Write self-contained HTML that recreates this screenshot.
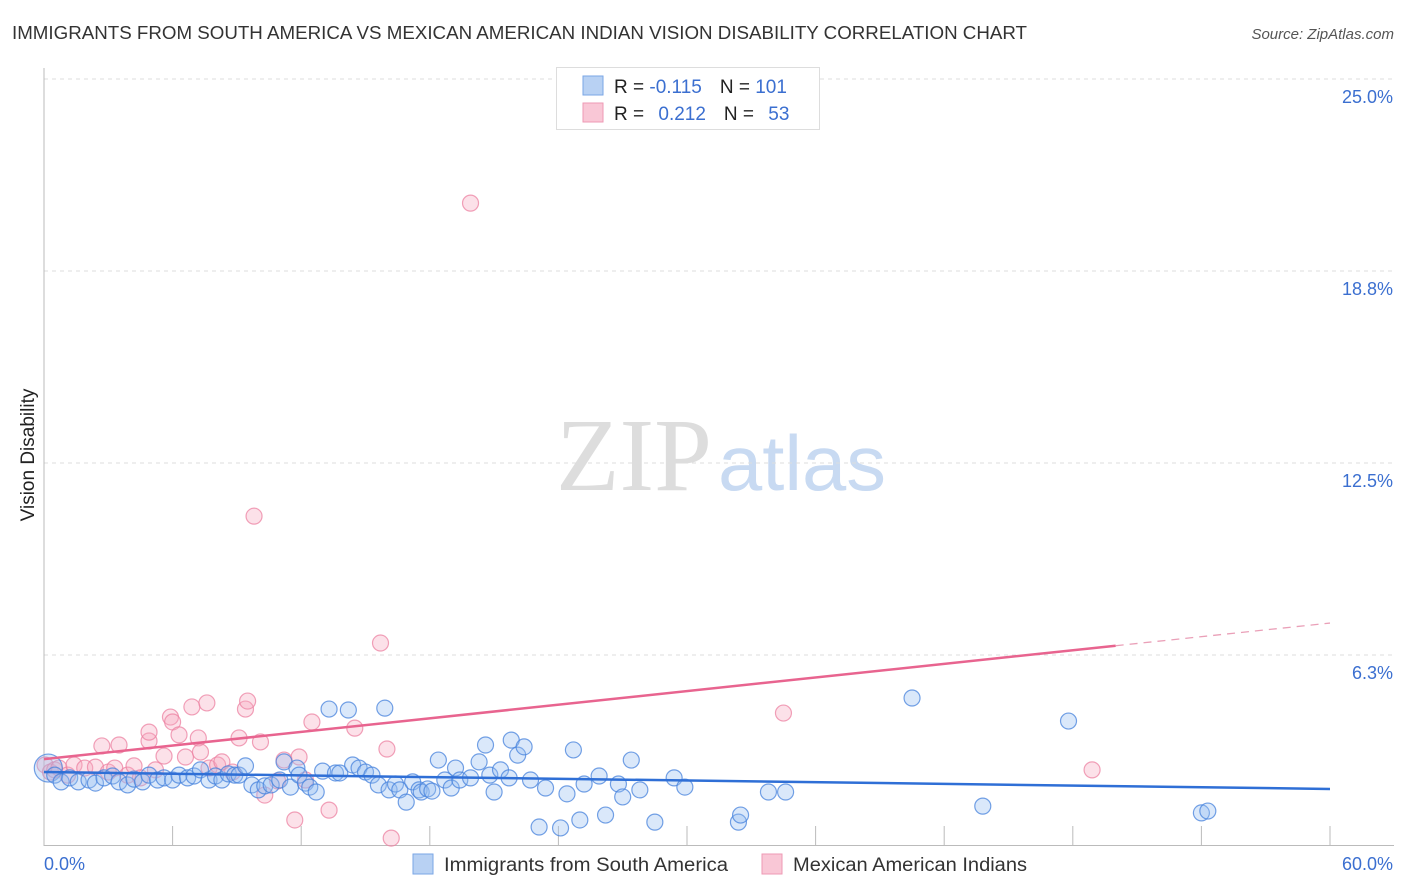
<!DOCTYPE html>
<html><head><meta charset="utf-8">
<style>
body{margin:0;background:#fff;font-family:"Liberation Sans",sans-serif;}
#wrap{position:relative;width:1406px;height:892px;overflow:hidden;}
</style></head>
<body>
<div id="wrap">
<svg id="svg" width="1406" height="892" xmlns="http://www.w3.org/2000/svg">
<text x="12" y="39" font-size="18" fill="#333" textLength="1015" lengthAdjust="spacingAndGlyphs">IMMIGRANTS FROM SOUTH AMERICA VS MEXICAN AMERICAN INDIAN VISION DISABILITY CORRELATION CHART</text>
<text x="1394" y="39" font-size="15" fill="#555" font-style="italic" text-anchor="end">Source: ZipAtlas.com</text>
<text x="34" y="455" font-size="19" fill="#222" text-anchor="middle" transform="rotate(-90 34 455)">Vision Disability</text>
<g>
<text x="556" y="490" font-size="104" font-family="Liberation Serif,serif" fill="#ddd" textLength="156" lengthAdjust="spacingAndGlyphs">ZIP</text>
<text x="718" y="490" font-size="78" fill="#c8daf2" textLength="168" lengthAdjust="spacingAndGlyphs">atlas</text>
</g>
<g id="grid"></g><g id="axes"></g><g id="pts"></g><g id="trend"></g>
<g>
<rect x="556.5" y="67.5" width="263" height="62" fill="#fff" stroke="#ddd"/>
<rect x="583" y="76" width="20" height="19" fill="#b8d1f3" stroke="#7aa6e6"/>
<rect x="583" y="103" width="20" height="19" fill="#f9c7d6" stroke="#ee9ab4"/>
<text x="614" y="93" font-size="19" fill="#222">R = <tspan fill="#3b6fd0">-0.115</tspan><tspan dx="18">N = </tspan><tspan fill="#3b6fd0">101</tspan></text>
<text x="614" y="120" font-size="19" fill="#222">R = <tspan dx="9" fill="#3b6fd0">0.212</tspan><tspan dx="18">N = </tspan><tspan dx="9" fill="#3b6fd0">53</tspan></text>
</g>
<g>
<rect x="413" y="854" width="20" height="20" fill="#b8d1f3" stroke="#7aa6e6"/>
<text x="444" y="871" font-size="19" fill="#333" textLength="284" lengthAdjust="spacingAndGlyphs">Immigrants from South America</text>
<rect x="762" y="854" width="20" height="20" fill="#f9c7d6" stroke="#ee9ab4"/>
<text x="793" y="871" font-size="19" fill="#333" textLength="234" lengthAdjust="spacingAndGlyphs">Mexican American Indians</text>
</g>
</svg>
</div>
<script>
const blueX=[0.2,0.5,0.8,1.2,1.6,2.1,2.4,2.8,3.2,3.5,3.9,4.2,4.6,4.9,5.3,5.6,6.0,6.3,6.7,7.0,7.3,7.7,8.0,8.3,8.6,8.9,9.1,9.4,9.7,10.0,10.3,10.6,11.0,11.2,11.5,11.8,11.9,12.2,12.4,12.7,13.0,13.3,13.6,13.8,14.2,14.4,14.7,15.0,15.3,15.6,15.9,16.1,16.4,16.6,16.9,17.2,17.5,17.6,17.9,18.1,18.4,18.7,19.0,19.2,19.4,19.9,20.3,20.6,20.8,21.0,21.3,21.7,21.8,22.1,22.4,22.7,23.1,23.4,24.1,24.4,24.7,25.0,25.2,25.9,26.2,26.8,27.0,27.4,27.8,28.5,29.4,29.9,32.4,32.5,33.8,34.6,40.5,43.8,47.8,54.0,54.3];
const blueY=[2.57,2.34,2.12,2.25,2.12,2.18,2.08,2.25,2.31,2.12,2.02,2.21,2.12,2.34,2.18,2.25,2.18,2.34,2.25,2.31,2.51,2.18,2.31,2.18,2.38,2.34,2.34,2.64,2.02,1.86,1.99,2.02,2.18,2.77,1.95,2.57,2.34,2.08,1.95,1.79,2.47,4.49,2.41,2.41,4.46,2.67,2.57,2.44,2.34,2.02,4.52,1.86,2.05,1.86,1.46,2.12,1.86,1.79,1.89,1.82,2.83,2.18,1.92,2.57,2.18,2.25,2.77,3.32,2.34,1.79,2.51,2.25,3.48,2.99,3.26,2.18,0.65,1.92,0.62,1.73,3.16,0.88,2.05,2.31,1.04,2.05,1.63,2.83,1.86,0.81,2.25,1.95,0.81,1.04,1.79,1.79,4.85,1.33,4.10,1.11,1.17];
const pinkX=[0.05,0.3,0.5,0.7,1.1,1.4,1.9,2.4,2.7,3.0,3.3,3.5,3.9,4.2,4.5,4.9,4.9,5.2,5.6,5.9,6.0,6.3,6.6,6.9,7.2,7.3,7.6,7.7,8.1,8.3,8.8,9.1,9.4,9.5,9.8,10.1,10.3,10.9,11.2,11.7,11.9,12.2,12.5,13.3,14.5,15.7,16.0,16.2,19.9,34.5,48.9];
const pinkY=[2.67,2.44,2.51,2.57,2.34,2.67,2.57,2.60,3.29,2.44,2.57,3.32,2.34,2.64,2.25,3.45,3.74,2.51,2.96,4.23,4.07,3.65,2.93,4.56,3.55,3.09,4.69,2.57,2.67,2.77,2.44,3.55,4.49,4.75,10.77,3.42,1.69,2.15,2.83,0.88,2.93,2.18,4.07,1.20,3.87,6.64,3.19,0.29,20.96,4.36,2.51];
const blueTrend=[2.44,1.89];
const pinkTrend=[2.86,7.29];
const pinkSolidEnd=50;
const yTicks=[6.25,12.5,18.75,25];
const yTickLabels=["6.3%","12.5%","18.8%","25.0%"];
const xTicks=[0,6,12,18,24,30,36,42,48,54,60];

const NS="http://www.w3.org/2000/svg";
const X=v=>44+v/60*1286;
const Y=v=>847-v/6.25*192;
function mk(tag,attrs,parent){const e=document.createElementNS(NS,tag);for(const k in attrs)e.setAttribute(k,attrs[k]);parent.appendChild(e);return e;}
const grid=document.getElementById('grid'),axes=document.getElementById('axes'),pts=document.getElementById('pts'),trend=document.getElementById('trend');
yTicks.forEach((t,i)=>{
 const l=mk('line',{x1:44,x2:1394,y1:Y(t),y2:Y(t),stroke:'#ddd','stroke-dasharray':'4,4'},grid);
 
 
 const tx=mk('text',{x:1393,y:Y(t)+24,'font-size':18,fill:'#3b6fd0','text-anchor':'end'},grid);
 tx.textContent=yTickLabels[i];
 
 
});
const ya=mk('line',{x1:44,x2:44,y1:68,y2:846,stroke:'#bbb'},axes);


const xa=mk('line',{x1:44,x2:1394,y1:845.5,y2:845.5,stroke:'#bbb'},axes);


xTicks.forEach(t=>{if(t===0)return;
 const l=mk('line',{x1:X(t),x2:X(t),y1:826,y2:846,stroke:'#bbb'},axes);
 
 
});
const xl0=mk('text',{x:44,y:870,'font-size':18,fill:'#3b6fd0'},axes);xl0.textContent='0.0%';


const xl1=mk('text',{x:1393,y:870,'font-size':18,fill:'#3b6fd0','text-anchor':'end'},axes);xl1.textContent='60.0%';


pinkX.forEach((x,i)=>{
 const c=mk('circle',{cx:X(x),cy:Y(pinkY[i]),r:8,fill:'rgba(246,168,192,0.35)',stroke:'rgba(236,130,162,0.75)','stroke-width':1.2},pts);
 
 
});
blueX.forEach((x,i)=>{
 const c=mk('circle',{cx:X(x),cy:Y(blueY[i]),r:i===0?14:8,fill:'rgba(150,190,240,0.35)',stroke:'rgba(70,130,220,0.75)','stroke-width':1.2},pts);
 
 
});
const bt=mk('line',{x1:X(0),y1:Y(blueTrend[0]),x2:X(60),y2:Y(blueTrend[1]),stroke:'#2f6fd6','stroke-width':2.5},trend);


const pAt=x=>pinkTrend[0]+(pinkTrend[1]-pinkTrend[0])*x/60;
const pt=mk('line',{x1:X(0),y1:Y(pAt(0)),x2:X(pinkSolidEnd),y2:Y(pAt(pinkSolidEnd)),stroke:'#e8648f','stroke-width':2.5},trend);


const pd=mk('line',{x1:X(pinkSolidEnd),y1:Y(pAt(pinkSolidEnd)),x2:X(60),y2:Y(pAt(60)),stroke:'#eaa0b8','stroke-width':1.3,'stroke-dasharray':'8,6'},trend);


</script>
</body></html>
